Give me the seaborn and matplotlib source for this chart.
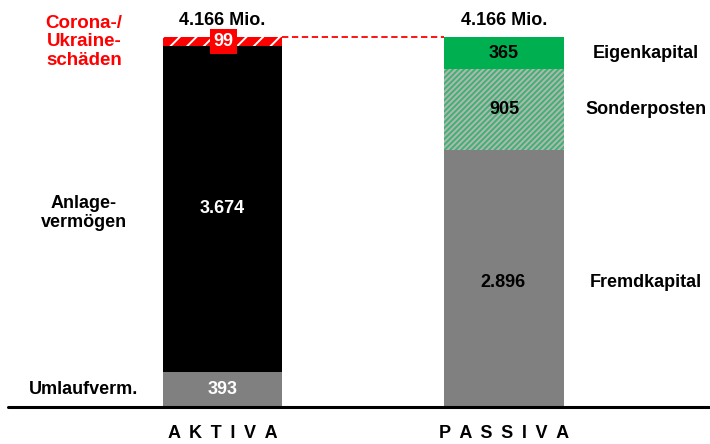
import matplotlib
matplotlib.use('Agg')
import matplotlib.pyplot as plt
import seaborn as sns
import numpy as np

sns.set_style('white')
plt.rcParams['font.family'] = ['Liberation Sans', 'DejaVu Sans']
plt.rcParams['text.color'] = 'black'
plt.rcParams['hatch.linewidth'] = 1.4

# data
seiten = ['AKTIVA', 'PASSIVA']
unten = [393, 2896]      # Umlaufverm. / Fremdkapital
mitte = [3674, 905]      # Anlagevermoegen / Sonderposten
oben = [99, 365]         # Corona-/Ukraineschaeden / Eigenkapital
summe_label = '4.166 Mio.'
achsen_label = [' \u2009'.join('AKTIVA'), ' \u2009'.join('PASSIVA')]

cum1 = np.array(unten)
cum2 = cum1 + np.array(mitte)
cum3 = cum2 + np.array(oben)

fig = plt.figure(figsize=(7.1, 4.44), dpi=100)
ax = fig.add_axes([0, 37 / 444, 1, 407 / 444])

w = 0.423
# stacked via overlapping cumulative bars
sns.barplot(x=seiten, y=cum3, hue=seiten, palette=['#ff0000', '#00b050'],
            width=w, saturation=1, legend=False, ax=ax, linewidth=0)
sns.barplot(x=seiten, y=cum2, hue=seiten, palette=['#000000', '#b2b6b2'],
            width=w, saturation=1, legend=False, ax=ax, linewidth=0)
sns.barplot(x=seiten, y=cum1, hue=seiten, palette=['#808080', '#808080'],
            width=w, saturation=1, legend=False, ax=ax, linewidth=0)

# hatching: red top on Aktiva, green stripes on Sonderposten
for p in ax.patches:
    x0 = p.get_x() + p.get_width() / 2
    h = p.get_height()
    if abs(x0) < 0.1 and abs(h - cum3[0]) < 1:
        p.set_hatch('//')
        p.set_edgecolor('white')
        p.set_linewidth(0)
    if abs(x0 - 1) < 0.1 and abs(h - cum2[1]) < 1:
        p.set_hatch('//////')
        p.set_edgecolor('#3cb371')
        p.set_linewidth(0)

px = cum3[0] / 370  # data units per pixel
ax.set_ylim(0, 407 * px)
ax.set_xlim(-222.5 / 281.5, 1 + (710 - 504) / 281.5)
ax.axis('off')

# baseline
ax.plot([-214.5 / 281.5, 1 + (710 - 504) / 281.5], [0, 0], color='black', lw=2.2, clip_on=False)

# dashed red line
ax.plot([w / 2, 1 - w / 2], [cum3[0], cum3[1]], color='#ff0000', lw=1.3, ls=(0, (3.5, 2)))

fs = 13
# totals above bars
for i in range(2):
    ax.text(i, cum3[i] + 12 * px, summe_label, ha='center', va='baseline', fontsize=fs, fontweight='bold')

# values inside bars
ax.text(0.004, (cum2[0] + cum3[0]) / 2, str(oben[0]), ha='center', va='center', color='white',
        fontsize=fs, fontweight='bold',
        bbox=dict(boxstyle='square,pad=0.2', fc='#ff0000', ec='none'))
ax.text(0, (cum1[0] + cum2[0]) / 2, '3.674', ha='center', va='center', color='white',
        fontsize=fs, fontweight='bold')
ax.text(0, cum1[0] / 2, str(unten[0]), ha='center', va='center', color='white',
        fontsize=fs, fontweight='bold')
ax.text(1, (cum2[1] + cum3[1]) / 2, str(oben[1]), ha='center', va='center', color='black',
        fontsize=fs, fontweight='bold')
ax.text(1, (cum1[1] + cum2[1]) / 2, str(mitte[1]), ha='center', va='center', color='black',
        fontsize=fs, fontweight='bold')
ax.text(0.995, 125 * px, '2.896', ha='center', va='center', color='black',
        fontsize=fs, fontweight='bold')

# left labels
xl = (84 - 222.5) / 281.5
ax.text(xl, 365 * px, 'Corona-/\nUkraine-\nschäden', ha='center', va='center', color='#ff0000',
        fontsize=13.5, fontweight='bold', linespacing=1.15)
ax.text(xl, 194 * px, 'Anlage-\nvermögen', ha='center', va='center', color='black',
        fontsize=fs, fontweight='bold', linespacing=1.15)
ax.text(xl, cum1[0] / 2, 'Umlaufverm.', ha='center', va='center', color='black',
        fontsize=fs, fontweight='bold')

# right labels
xr = 1 + (646 - 504) / 281.5
ax.text(xr, (cum2[1] + cum3[1]) / 2, 'Eigenkapital', ha='center', va='center', fontsize=fs, fontweight='bold')
ax.text(xr, (cum1[1] + cum2[1]) / 2, 'Sonderposten', ha='center', va='center', fontsize=fs, fontweight='bold')
ax.text(xr, 125 * px, 'Fremdkapital', ha='center', va='center', fontsize=fs, fontweight='bold')

# axis labels
for i in range(2):
    ax.text(i, -26 * px, achsen_label[i], ha='center', va='center', fontsize=fs, fontweight='bold')

fig.savefig('out.png', dpi=100)
